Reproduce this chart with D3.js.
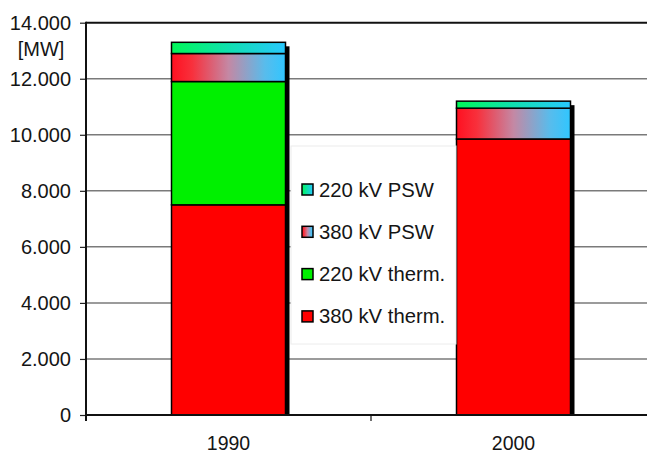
<!DOCTYPE html>
<html>
<head>
<meta charset="utf-8">
<script src="https://cdn.jsdelivr.net/npm/d3@7"></script>
<style>
  html, body { margin: 0; padding: 0; background: #fff; }
  svg { display: block; font-family: "Liberation Sans", Arial, sans-serif; }
</style>
</head>
<body>
<svg id="chart" width="647" height="454"></svg>
<script>
// Installed capacity by voltage level and plant type [MW]
const years = ["1990", "2000"];
const seriesNames = ["380 kV therm.", "220 kV therm.", "380 kV PSW", "220 kV PSW"];
const therm380 = [7500, 9850];
const therm220 = [4400, 0];
const psw380 = [1000, 1100];
const psw220 = [400, 250];
const yTicks = [0, 2000, 4000, 6000, 8000, 10000, 12000, 14000];
const unitLabel = "[MW]";

const rows = years.map((yr, i) => ({
  year: yr,
  "380 kV therm.": therm380[i],
  "220 kV therm.": therm220[i],
  "380 kV PSW": psw380[i],
  "220 kV PSW": psw220[i]
}));

const svg = d3.select("#chart");
const W = 647;
const plotLeft = 86, plotBottom = 415, plotTop = 22.7, plotRight = 656;

// gradients
const defs = svg.append("defs");
function grad(id, stops) {
  const g = defs.append("linearGradient").attr("id", id)
    .attr("x1", "0%").attr("x2", "100%").attr("y1", "0%").attr("y2", "0%");
  stops.forEach(([o, c]) => g.append("stop").attr("offset", o).attr("stop-color", c));
}
grad("gPsw380", [["0%", "#ff1020"], ["18%", "#f8303c"], ["50%", "#c488a4"], ["82%", "#58bcec"], ["100%", "#30c6ff"]]);
grad("gPsw220", [["0%", "#00f858"], ["50%", "#10e0b0"], ["100%", "#28c8ff"]]);

const fills = {
  "380 kV therm.": "#ff0000",
  "220 kV therm.": "#00f000",
  "380 kV PSW": "url(#gPsw380)",
  "220 kV PSW": "url(#gPsw220)"
};

const x = d3.scaleBand().domain(years).range([plotLeft, plotRight])
  .paddingInner(0.6).paddingOuter(0.3);
const y = d3.scaleLinear().domain([0, 14000]).range([plotBottom, plotTop]);

const de = d3.formatLocale({ decimal: ",", thousands: ".", grouping: [3], currency: ["", " €"] });
const fmt = de.format(",");

// gridlines
svg.append("g").selectAll("line")
  .data(yTicks.filter(v => v > 0 && v < 14000))
  .join("line")
  .attr("x1", plotLeft).attr("x2", W)
  .attr("y1", d => y(d)).attr("y2", d => y(d))
  .attr("stroke", "#7a7a7a").attr("stroke-width", 1.5);

// top frame line
svg.append("line")
  .attr("x1", plotLeft).attr("x2", W)
  .attr("y1", y(14000)).attr("y2", y(14000))
  .attr("stroke", "#111").attr("stroke-width", 2);

// stacked bars
const stack = d3.stack().keys(seriesNames)(rows);
const totals = rows.map(r => d3.sum(seriesNames, k => r[k]));

// drop shadows to the right of each column
svg.append("g").selectAll("rect")
  .data(years)
  .join("rect")
  .attr("x", d => x(d) + x.bandwidth())
  .attr("y", (d, i) => y(totals[i]) + 4)
  .attr("width", 4)
  .attr("height", (d, i) => plotBottom - y(totals[i]) - 4)
  .attr("fill", "#000");

svg.append("g").selectAll("g")
  .data(stack)
  .join("g")
  .attr("fill", d => fills[d.key])
  .selectAll("rect")
  .data(d => d.filter(s => s[1] - s[0] > 0))
  .join("rect")
  .attr("x", d => x(d.data.year))
  .attr("y", d => y(d[1]))
  .attr("width", x.bandwidth())
  .attr("height", d => y(d[0]) - y(d[1]))
  .attr("stroke", "#000")
  .attr("stroke-width", 1.5);

// legend
const legendItems = ["220 kV PSW", "380 kV PSW", "220 kV therm.", "380 kV therm."];
svg.append("rect")
  .attr("x", 291).attr("y", 146).attr("width", 165).attr("height", 198)
  .attr("fill", "#fff").attr("stroke", "#ececec").attr("stroke-width", 1);
const lg = svg.append("g").selectAll("g")
  .data(legendItems)
  .join("g")
  .attr("transform", (d, i) => `translate(302, ${196.5 + i * 42.3})`);
lg.append("rect")
  .attr("x", 0).attr("y", -12.5).attr("width", 11).attr("height", 11)
  .attr("fill", d => fills[d]).attr("stroke", "#000").attr("stroke-width", 1.5);
lg.append("text")
  .attr("x", 17).attr("y", 0)
  .attr("font-size", 20.3).attr("fill", "#151515")
  .text(d => d);

// y axis
const yAxis = svg.append("g")
  .attr("transform", `translate(${plotLeft},0)`)
  .call(d3.axisLeft(y).tickValues(yTicks).tickSize(6).tickPadding(9).tickFormat(fmt));
yAxis.select(".domain").remove();
yAxis.selectAll(".tick line").attr("stroke", "#222").attr("stroke-width", 1.2);
yAxis.selectAll(".tick text").attr("font-size", 20).attr("fill", "#151515")
  .attr("font-family", "Liberation Sans, Arial, sans-serif");

svg.append("line")
  .attr("x1", plotLeft).attr("x2", plotLeft).attr("y1", plotTop - 1).attr("y2", plotBottom + 6)
  .attr("stroke", "#111").attr("stroke-width", 2);

svg.append("text")
  .attr("x", 41).attr("y", 55.5).attr("text-anchor", "middle")
  .attr("font-size", 20).attr("fill", "#151515")
  .text(unitLabel);

// x axis
const xAxis = svg.append("g")
  .attr("transform", `translate(0,${plotBottom})`)
  .call(d3.axisBottom(x).tickSize(0).tickPadding(0));
xAxis.select(".domain").remove();
xAxis.selectAll(".tick text")
  .attr("y", 34.5).attr("dy", null)
  .attr("font-size", 19.5).attr("fill", "#151515")
  .attr("font-family", "Liberation Sans, Arial, sans-serif");

svg.append("line")
  .attr("x1", plotLeft).attr("x2", W).attr("y1", plotBottom).attr("y2", plotBottom)
  .attr("stroke", "#111").attr("stroke-width", 2);

// category separator tick
svg.append("g").selectAll("line")
  .data([(x("1990") + x.bandwidth() + x("2000")) / 2])
  .join("line")
  .attr("x1", d => d).attr("x2", d => d)
  .attr("y1", plotBottom).attr("y2", plotBottom + 6)
  .attr("stroke", "#111").attr("stroke-width", 1.2);
</script>
</body>
</html>
